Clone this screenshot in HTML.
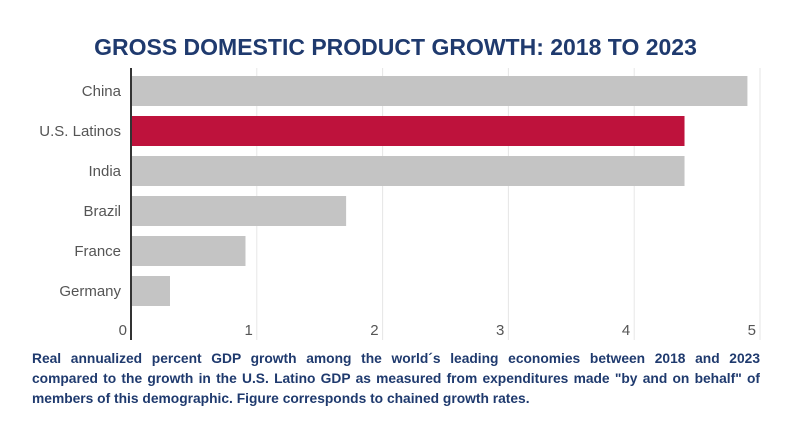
<!DOCTYPE html>
<html><head><meta charset="utf-8"><style>
body{margin:0;width:791px;height:439px;background:#fff;font-family:"Liberation Sans",sans-serif;overflow:hidden}
#title{position:absolute;left:0;width:791px;top:34px;text-align:center;font-size:23px;font-weight:bold;color:#1f3a6e}
#note{position:absolute;left:32px;top:349px;width:728px;font-size:13.8px;font-weight:bold;color:#1f3a6e;line-height:20px}
#note span{display:block;white-space:nowrap}
#note span.j{text-align:justify;text-align-last:justify}
svg{position:absolute;left:0;top:0}
</style></head><body>
<div id="title">GROSS DOMESTIC PRODUCT GROWTH: 2018 TO 2023</div>
<svg id="chart" width="791" height="439"></svg>
<div id="note"><span class="j">Real annualized percent GDP growth among the world´s leading economies between 2018 and 2023</span><span class="j">compared to the growth in the U.S. Latino GDP as measured from expenditures made "by and on behalf" of</span><span>members of this demographic. Figure corresponds to chained growth rates.</span></div>
<script>
const categories=["China","U.S. Latinos","India","Brazil","France","Germany"];
const values=[4.9,4.4,4.4,1.71,0.91,0.31];
const highlight=[false,true,false,false,false,false];
const ticks=[0,1,2,3,4,5];
const NS="http://www.w3.org/2000/svg";
const svg=document.getElementById('chart');
const x0=131,unit=125.8,top0=71,band=40,barH=30;
const xs=v=>x0+v*unit;
const ys=i=>top0+i*band+(band-barH)/2;
function mk(t,a){const e=document.createElementNS(NS,t);for(const k in a)e.setAttribute(k,a[k]);svg.appendChild(e);return e;}
ticks.forEach(t=>{
 if(t>0){const g=mk('line',{x1:xs(t),x2:xs(t),y1:68,y2:340,stroke:'#e6e6e6','stroke-width':1});
 
 }
 const l=mk('text',{x:xs(t)-4,y:335,'text-anchor':'end','font-size':15,fill:'#555','font-family':'Liberation Sans, sans-serif'});
 l.textContent=t;
 
 
});
categories.forEach((c,i)=>{
 const r=mk('rect',{x:xs(0),y:ys(i),width:xs(values[i])-xs(0),height:barH,fill:highlight[i]?'#be123c':'#c4c4c4'});
 
 
 const l=mk('text',{x:121,y:ys(i)+barH/2+5,'text-anchor':'end','font-size':15,fill:'#555','font-family':'Liberation Sans, sans-serif'});
 l.textContent=c;
 
 
});
const ax=mk('line',{x1:xs(0),x2:xs(0),y1:68,y2:340,stroke:'#333','stroke-width':2});


</script>
</body></html>
